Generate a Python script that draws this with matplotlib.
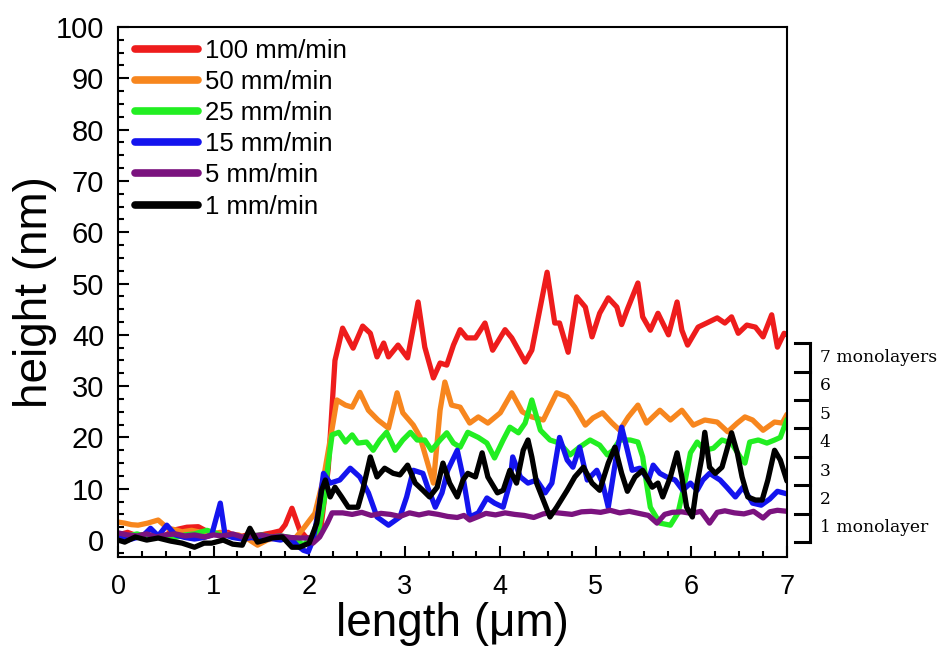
import matplotlib
matplotlib.use("Agg")
import matplotlib.pyplot as plt
from matplotlib.ticker import MultipleLocator
from matplotlib.transforms import blended_transform_factory

# series, x in um, height in nm
x_100 = [0, 0.1, 0.2, 0.3, 0.4, 0.5, 0.6, 0.72, 0.84, 0.95,
         1.05, 1.15, 1.25, 1.35, 1.45, 1.55, 1.61, 1.7, 1.75, 1.82,
         1.9, 1.97, 2.05, 2.12, 2.2, 2.27, 2.35, 2.46, 2.56, 2.64,
         2.71, 2.78, 2.83, 2.93, 3.03, 3.14, 3.21, 3.3, 3.37, 3.44,
         3.51, 3.58, 3.65, 3.74, 3.84, 3.92, 4.05, 4.12, 4.26, 4.33,
         4.49, 4.57, 4.62, 4.71, 4.8, 4.89, 4.96, 5.04, 5.13, 5.22,
         5.27, 5.33, 5.44, 5.49, 5.57, 5.65, 5.76, 5.85, 5.9, 5.96,
         6.07, 6.16, 6.27, 6.35, 6.42, 6.49, 6.58, 6.67, 6.75, 6.84,
         6.9, 6.97, 7.0]
y_100 = [1.0, 1.5, 0.8, 1.2, 0.5, 1.0, 2.0, 2.5, 2.6, 1.5,
         1.0, 1.5, 0.5, 1.0, 0.8, 1.2, 1.4, 1.8, 3.0, 6.2,
         2.0, 0.5, 0.2, 2.0, 14.0, 35.0, 41.3, 37.4, 41.7, 40.3,
         35.7, 38.4, 35.7, 38.0, 35.5, 46.4, 37.6, 31.6, 34.5, 34.1,
         38.0, 41.0, 39.4, 39.4, 42.3, 37.0, 41.0, 39.4, 34.7, 37.0,
         52.2, 42.3, 42.3, 36.6, 47.4, 45.4, 39.6, 44.2, 47.2, 45.4,
         42.0, 45.0, 50.1, 43.5, 40.9, 44.2, 40.0, 46.4, 40.9, 38.0,
         41.5, 42.3, 43.3, 42.3, 43.5, 40.3, 41.9, 41.5, 39.6, 43.9,
         37.6, 40.3, 40.0]

x_50 = [0, 0.07, 0.14, 0.21, 0.31, 0.42, 0.52, 0.6, 0.67, 0.77,
        0.87, 0.97, 1.07, 1.17, 1.26, 1.36, 1.46, 1.56, 1.66, 1.76,
        1.86, 1.95, 2.01, 2.06, 2.15, 2.25, 2.29, 2.38, 2.45, 2.53,
        2.62, 2.72, 2.83, 2.92, 2.98, 3.09, 3.16, 3.23, 3.3, 3.37,
        3.42, 3.49, 3.58, 3.68, 3.77, 3.87, 4.0, 4.12, 4.23, 4.33,
        4.45, 4.59, 4.7, 4.78, 4.89, 4.97, 5.07, 5.17, 5.25, 5.34,
        5.44, 5.53, 5.67, 5.78, 5.9, 6.02, 6.14, 6.27, 6.38, 6.48,
        6.56, 6.64, 6.75, 6.87, 6.95, 7.0]
y_50 = [3.5, 3.3, 3.0, 2.9, 3.3, 3.9, 2.3, 2.0, 1.6, 1.9,
        1.5, 1.2, 1.5, 1.0, 1.0, 0.2, -1.0, 0.0, 0.5, 0.3,
        0.5, 2.5, 4.0, 5.2, 12.0, 22.8, 27.3, 26.3, 25.9, 28.8,
        25.3, 23.4, 21.8, 28.7, 24.8, 22.4, 20.1, 15.6, 11.1, 25.3,
        30.8, 26.3, 25.9, 22.8, 24.0, 22.8, 24.8, 28.7, 25.0, 24.0,
        23.4, 28.7, 27.9, 25.9, 22.4, 23.8, 24.8, 22.8, 21.4, 24.0,
        26.3, 22.8, 25.3, 23.4, 25.3, 22.4, 23.4, 23.0, 21.1, 22.8,
        24.0, 23.4, 21.4, 23.0, 22.8, 24.5]

x_25 = [0, 0.1, 0.2, 0.3, 0.4, 0.5, 0.6, 0.7, 0.8, 0.93,
        1.0, 1.1, 1.2, 1.3, 1.4, 1.5, 1.6, 1.7, 1.8, 1.87,
        1.94, 2.02, 2.1, 2.16, 2.2, 2.24, 2.31, 2.38, 2.45, 2.51,
        2.6, 2.67, 2.74, 2.81, 2.9, 2.98, 3.06, 3.13, 3.21, 3.28,
        3.37, 3.44, 3.51, 3.58, 3.66, 3.77, 3.86, 3.94, 4.03, 4.1,
        4.19, 4.26, 4.33, 4.42, 4.52, 4.62, 4.73, 4.83, 4.94, 5.04,
        5.12, 5.18, 5.25, 5.36, 5.44, 5.49, 5.53, 5.57, 5.67, 5.78,
        5.86, 5.93, 5.99, 6.06, 6.14, 6.23, 6.32, 6.42, 6.51, 6.56,
        6.61, 6.7, 6.79, 6.87, 6.93, 7.0]
y_25 = [1.0, 0.8, 1.2, 0.6, 1.0, 0.8, 0.5, 1.0, 1.2, 1.9,
        1.5, 0.8, 1.0, 0.5, 0.8, 1.0, 0.6, 0.8, 0.5, 0.0,
        -1.0, 0.5, 2.0, 8.0, 15.0, 20.5, 21.0, 19.1, 20.5, 18.9,
        19.1, 17.5, 19.5, 21.0, 17.5, 19.5, 21.0, 19.5, 19.5, 17.5,
        19.5, 20.9, 18.9, 18.1, 21.0, 20.0, 18.9, 16.0, 19.5, 22.0,
        20.9, 22.8, 27.3, 21.4, 19.5, 18.9, 16.6, 18.1, 19.5, 18.5,
        16.6, 17.5, 19.5, 19.5, 19.1, 16.2, 11.1, 6.4, 3.3, 2.9,
        5.3, 11.1, 17.0, 19.1, 17.5, 17.9, 19.5, 18.9, 16.2, 15.0,
        19.1, 19.5, 18.9, 19.5, 20.0, 23.5]

x_15 = [0, 0.1, 0.2, 0.27, 0.34, 0.42, 0.51, 0.6, 0.7, 0.8,
        0.9, 0.98, 1.07, 1.12, 1.2, 1.3, 1.4, 1.5, 1.6, 1.7,
        1.8, 1.87, 1.94, 1.99, 2.04, 2.1, 2.15, 2.22, 2.32, 2.43,
        2.53, 2.62, 2.71, 2.83, 2.95, 3.02, 3.09, 3.19, 3.24, 3.32,
        3.39, 3.45, 3.55, 3.61, 3.68, 3.77, 3.86, 3.94, 4.03, 4.1,
        4.13, 4.21, 4.29, 4.38, 4.47, 4.54, 4.62, 4.7, 4.76, 4.83,
        4.91, 5.01, 5.07, 5.13, 5.22, 5.27, 5.33, 5.38, 5.46, 5.55,
        5.6, 5.67, 5.74, 5.83, 5.91, 5.99, 6.06, 6.12, 6.19, 6.3,
        6.37, 6.46, 6.54, 6.64, 6.73, 6.82, 6.9, 7.0]
y_15 = [0.5, 0.0, 0.5, 1.0, 2.3, 0.8, 2.9, 1.0, 0.5, 0.2,
        0.5, 1.0, 7.2, 1.0, 0.5, 0.2, 0.5, 0.0, 0.3, 0.0,
        0.5, -1.0, -2.0, -2.3, 0.0, 6.0, 13.0, 11.1, 11.7, 14.0,
        12.3, 9.2, 4.5, 2.9, 4.5, 8.4, 13.6, 13.0, 10.3, 6.4,
        9.2, 13.6, 17.5, 12.3, 4.5, 5.3, 8.2, 7.2, 6.4, 11.1,
        16.2, 12.3, 11.1, 11.7, 9.2, 11.1, 20.0, 15.6, 14.2, 18.1,
        11.7, 13.6, 11.1, 6.4, 17.0, 22.0, 17.5, 13.6, 14.0, 11.7,
        14.6, 13.0, 12.3, 11.7, 9.7, 11.1, 9.7, 11.7, 13.0, 11.7,
        10.3, 8.4, 10.3, 7.2, 6.8, 8.0, 9.5, 9.0]

x_5 = [0, 0.1, 0.2, 0.3, 0.4, 0.5, 0.6, 0.7, 0.8, 0.91,
       1.0, 1.1, 1.2, 1.3, 1.4, 1.5, 1.6, 1.7, 1.8, 1.9,
       1.99, 2.04, 2.11, 2.19, 2.24, 2.35, 2.45, 2.55, 2.65, 2.75,
       2.85, 2.95, 3.05, 3.15, 3.25, 3.35, 3.45, 3.55, 3.62, 3.68,
       3.76, 3.85, 3.95, 4.05, 4.15, 4.25, 4.35, 4.45, 4.55, 4.65,
       4.75, 4.85, 4.95, 5.05, 5.15, 5.25, 5.35, 5.45, 5.55, 5.64,
       5.72, 5.8, 5.9, 6.0, 6.1, 6.19, 6.27, 6.35, 6.45, 6.55,
       6.65, 6.75, 6.82, 6.9, 7.0]
y_5 = [1.4, 1.0, 0.8, 1.2, 0.6, 1.0, 1.2, 0.8, 1.0, 0.6,
       1.0, 0.8, 1.2, 0.6, 0.8, 1.0, 0.6, 0.8, 0.5, 0.4,
       0.4, -0.6, 0.6, 3.3, 5.3, 5.3, 5.0, 5.4, 4.8, 5.2,
       5.0, 4.6, 5.3, 4.9, 5.3, 5.0, 4.6, 4.4, 4.8, 3.9,
       4.5, 5.2, 4.9, 5.3, 5.0, 4.8, 4.4, 5.1, 5.4, 5.2,
       5.0, 5.5, 5.6, 5.4, 5.8, 5.3, 5.6, 5.2, 4.8, 3.3,
       5.0, 5.4, 5.5, 5.2, 5.6, 3.3, 5.4, 5.7, 5.3, 5.1,
       5.6, 4.3, 5.5, 5.8, 5.6]

x_1 = [0, 0.07, 0.18, 0.3, 0.42, 0.55, 0.67, 0.8, 0.9, 0.98,
       1.1, 1.2, 1.3, 1.38, 1.46, 1.54, 1.61, 1.72, 1.82, 1.9,
       2.0, 2.08, 2.13, 2.17, 2.22, 2.27, 2.34, 2.41, 2.51, 2.56,
       2.64, 2.71, 2.79, 2.88, 2.95, 3.03, 3.11, 3.19, 3.26, 3.34,
       3.4, 3.47, 3.55, 3.61, 3.66, 3.74, 3.81, 3.87, 3.97, 4.03,
       4.1, 4.17, 4.24, 4.29, 4.33, 4.38, 4.45, 4.52, 4.59, 4.7,
       4.78, 4.87, 4.96, 5.04, 5.13, 5.2, 5.27, 5.33, 5.41, 5.49,
       5.59, 5.65, 5.7, 5.78, 5.85, 5.9, 5.95, 6.01, 6.06, 6.11,
       6.14, 6.19, 6.25, 6.32, 6.37, 6.42, 6.48, 6.53, 6.59, 6.67,
       6.74, 6.8, 6.87, 6.93, 7.0]
y_1 = [0.0, -0.4, 0.6, 0.0, 0.4, -0.2, -0.6, -1.4, -0.6, -0.6,
       0.0, -0.8, -1.0, 2.3, -0.4, 0.0, 0.4, 0.6, -1.4, -1.4,
       -0.6, 3.3, 9.7, 11.7, 8.4, 10.3, 8.4, 6.4, 6.4, 9.7,
       16.2, 12.3, 14.0, 13.0, 12.7, 14.6, 11.1, 9.7, 8.4, 10.3,
       15.0, 11.1, 8.4, 11.7, 13.0, 12.3, 17.0, 12.3, 9.2, 9.7,
       13.6, 11.1, 17.5, 19.5, 16.2, 11.1, 7.8, 4.5, 6.4, 9.7,
       12.3, 14.2, 11.1, 9.7, 15.0, 18.1, 13.0, 9.5, 12.3, 13.6,
       10.3, 11.1, 8.4, 12.3, 17.0, 12.3, 6.4, 4.5, 11.1, 16.2,
       21.0, 14.2, 13.0, 14.2, 17.5, 20.9, 17.0, 12.3, 8.4, 7.8,
       7.8, 11.7, 17.5, 15.6, 11.5]

labels = ["100 mm/min", "50 mm/min", "25 mm/min", "15 mm/min", "5 mm/min", "1 mm/min"]
colors = ["#ee1c1c", "#f7861e", "#22ee22", "#1414ee", "#7b137f", "#000000"]

# monolayer scale on the right (nm)
layer_edges = [-0.4, 5.1, 10.7, 16.2, 21.8, 27.3, 32.8, 38.4]
layer_labels = ["1 monolayer", "2", "3", "4", "5", "6", "7 monolayers"]

plt.rcParams['font.family'] = ['Liberation Sans', 'DejaVu Sans']

fig = plt.figure(figsize=(9.39, 6.5), dpi=100)
ax = fig.add_axes([0.1257, 0.1431, 0.7124, 0.8154])

series = [(x_100, y_100), (x_50, y_50), (x_25, y_25), (x_15, y_15), (x_5, y_5), (x_1, y_1)]
for (xs, ys), lab, c in zip(series, labels, colors):
  ax.plot(xs, ys, color=c, lw=3.8, label=lab, solid_joinstyle='round',
          solid_capstyle='round')

ax.set_xlim(0, 7)
ax.set_ylim(-3.3, 100)
ax.xaxis.set_major_locator(MultipleLocator(1))
ax.xaxis.set_minor_locator(MultipleLocator(0.25))
ax.yaxis.set_major_locator(MultipleLocator(10))
ax.yaxis.set_minor_locator(MultipleLocator(2.5))
ax.tick_params(which='both', direction='in', top=False, right=False, width=1.5)
ax.tick_params(which='major', length=8)
ax.tick_params(which='minor', length=4)
ax.tick_params(axis='y', labelsize=21, pad=10)
ax.tick_params(axis='x', labelsize=19.5, pad=12)
for s in ax.spines.values():
  s.set_linewidth(1.5)

ax.set_xlabel("length (\u03bcm)", fontsize=33, labelpad=2)
ax.set_ylabel("height (nm)", fontsize=33, labelpad=-1)

leg = ax.legend(loc='upper left', bbox_to_anchor=(0.026, 0.978), frameon=False,
                fontsize=18.5, handlelength=2.45, handletextpad=0.27,
                labelspacing=0.28, borderpad=0, borderaxespad=0)
for h in leg.get_lines():
  h.set_linewidth(5.5)
  h.set_solid_capstyle('round')

# bracket with monolayer steps
tr = blended_transform_factory(ax.transAxes, ax.transData)
ax.plot([1.0344, 1.0344], [layer_edges[0], layer_edges[-1]], color='black', lw=2.2,
        transform=tr, clip_on=False)
for e in layer_edges:
  ax.plot([1.012, 1.0344], [e, e], color='black', lw=2.2, transform=tr, clip_on=False)
for i, t in enumerate(layer_labels):
  mid = (layer_edges[i] + layer_edges[i + 1]) / 2
  ax.text(1.049, mid, t, transform=tr, fontsize=12.3, va='center', ha='left',
          family='DejaVu Serif')

fig.savefig("out.png", dpi=100)
